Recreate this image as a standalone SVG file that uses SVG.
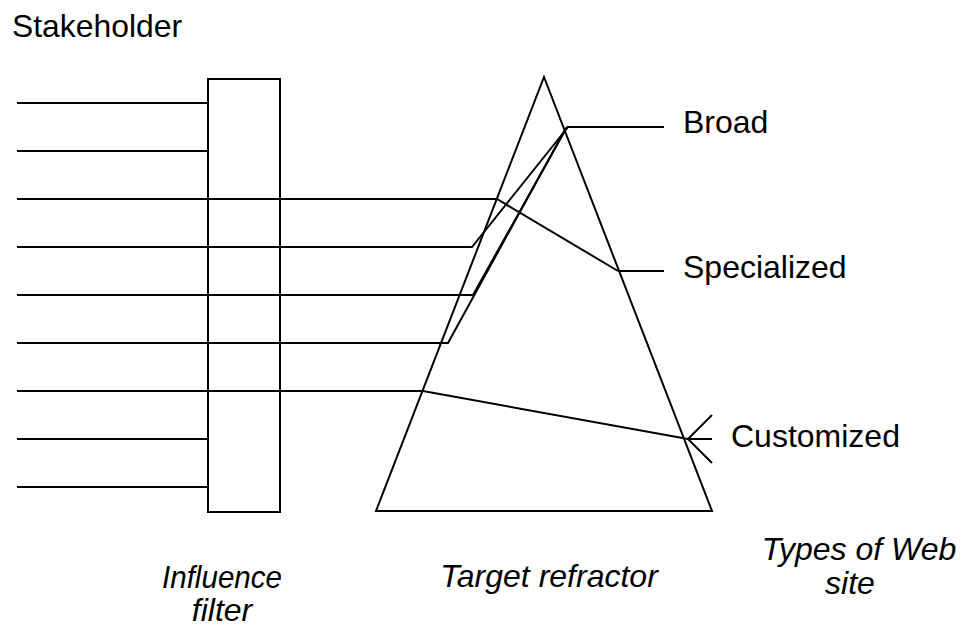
<svg xmlns="http://www.w3.org/2000/svg" width="961" height="628" viewBox="0 0 961 628">
  <style>
    .ln { fill: none; stroke: #000; stroke-width: 2; stroke-linejoin: miter; }
    .lbl { font-family: "Liberation Sans", Arial, sans-serif; font-size: 32px; fill: #000; }
    .cap { font-family: "Liberation Sans", Arial, sans-serif; font-size: 32px; font-style: italic; fill: #000; text-anchor: middle; }
  </style>
  <rect width="961" height="628" fill="#fff"/>

  <g id="stakeholder">
    <text class="lbl" x="12" y="37" font-size="28" textLength="170" lengthAdjust="spacingAndGlyphs">Stakeholder</text>
  </g>

  <g id="influence-filter">
    <rect class="ln" x="208" y="79" width="72" height="433"/>
    <text class="cap" x="222" y="588" font-size="28" textLength="120" lengthAdjust="spacingAndGlyphs">Influence</text>
    <text class="cap" x="222" y="621" font-size="28">filter</text>
  </g>

  <g id="target-refractor">
    <polygon class="ln" points="544,77 712,511 376,511"/>
    <text class="cap" x="549" y="587">Target refractor</text>
  </g>

  <g id="broad">
    <text class="lbl" x="683" y="133">Broad</text>
  </g>
  <g id="specialized">
    <text class="lbl" x="683" y="278">Specialized</text>
  </g>
  <g id="customized">
    <text class="lbl" x="731" y="447">Customized</text>
  </g>
  <g id="types-of-web-site">
    <text class="cap" x="859" y="560">Types of Web</text>
    <text class="cap" x="850" y="594">site</text>
  </g>

  <g id="connectors">
    <!-- stakeholder inputs into the filter -->
    <path class="ln" d="M17,103H208 M17,151H208 M17,439H208 M17,487H208"/>
    <!-- inputs passing through the filter into the refractor -->
    <path class="ln" d="M17,199H497L618,271"/>
    <path class="ln" d="M17,247H472L568,127"/>
    <path class="ln" d="M17,295H473L567,127"/>
    <path class="ln" d="M17,343H448L566,128"/>
    <path class="ln" d="M17,391H423L688,439"/>
    <!-- outputs to site types -->
    <path class="ln" d="M567,127H664"/>
    <path class="ln" d="M618,271H664"/>
    <path class="ln" d="M712,415L688,439L712,463 M688,439H712"/>
  </g>
</svg>
